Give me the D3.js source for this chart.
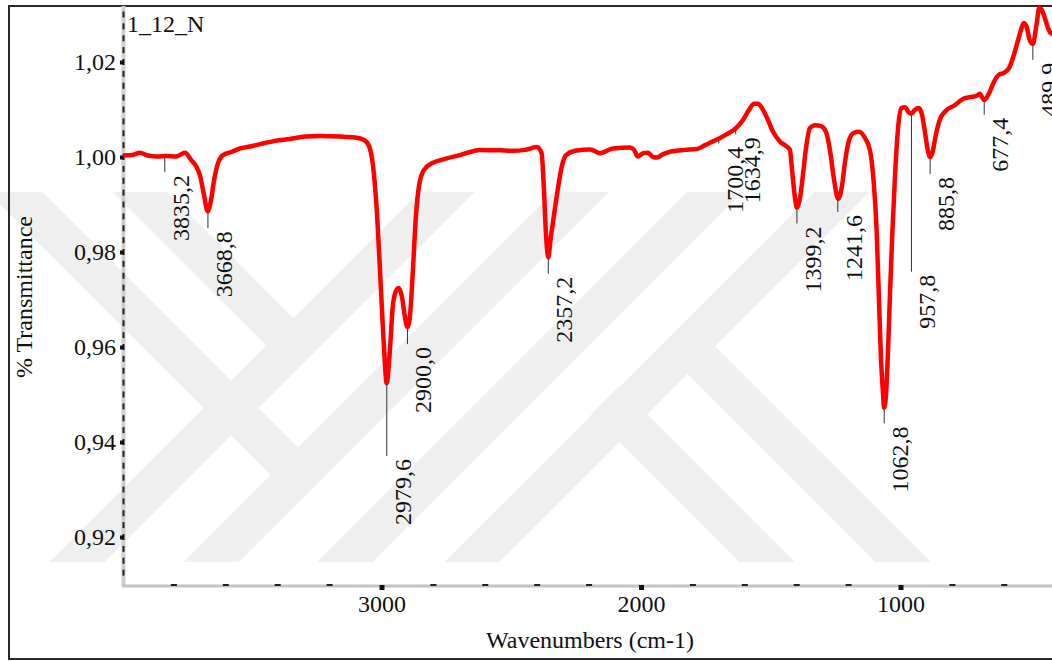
<!DOCTYPE html>
<html>
<head>
<meta charset="utf-8">
<script src="https://cdn.jsdelivr.net/npm/d3@7"></script>
<style>
  body { margin: 0; background: #fff; }
  svg { display: block; font-family: "Liberation Serif", "Times New Roman", serif; }
</style>
</head>
<body>
<svg id="chart" width="1052" height="661"></svg>
<script>
// spectrum (cm-1, transmittance)
const wavenumber = [3996, 3961, 3931, 3900, 3865, 3830, 3792, 3757, 3734, 3715, 3699, 3684, 3670, 3657, 3645, 3630, 3611,
  3576, 3545, 3507, 3468, 3410, 3353, 3295, 3237, 3160, 3102, 3067, 3048, 3033, 3017, 3002, 2990, 2980, 2969, 2956,
  2944, 2933, 2921, 2909, 2900, 2890, 2879, 2867, 2855, 2836, 2805, 2755, 2697, 2620, 2543, 2493, 2447, 2401, 2383,
  2374, 2366, 2357, 2349, 2339, 2324, 2304, 2289, 2254, 2196, 2158, 2108, 2042, 2027, 2012, 1992, 1973, 1954, 1938,
  1915, 1880, 1830, 1784, 1753, 1722, 1699, 1669, 1634, 1607, 1584, 1564, 1549, 1534, 1514, 1491, 1464, 1441, 1426,
  1418, 1408, 1399, 1387, 1376, 1364, 1349, 1329, 1306, 1287, 1272, 1256, 1240, 1225, 1214, 1198, 1179, 1160, 1137,
  1118, 1104, 1092, 1083, 1075, 1067, 1063, 1056, 1048, 1040, 1031, 1021, 1010, 996, 983, 967, 958, 945, 930, 918,
  907, 895, 886, 876, 864, 849, 826, 791, 760, 733, 706, 695, 677, 660, 640, 621, 602, 582, 567, 552, 536, 525, 513,
  502, 490, 476, 465, 455, 444, 432, 421, 409]
const transmittance = [1.0003, 1.0004, 1.0009, 1.0003, 1.0001, 1.0002, 1.0001, 1.0009, 0.9994, 0.9981, 0.9960, 0.9920,
  0.9886, 0.9909, 0.9952, 0.9987, 1.0004, 1.0011, 1.0018, 1.0022, 1.0027, 1.0034, 1.0038, 1.0043, 1.0044, 1.0043,
  1.0041, 1.0036, 1.0023, 0.9983, 0.9878, 0.9720, 0.9594, 0.9524, 0.9583, 0.9688, 0.9718, 0.9724, 0.9705, 0.9661,
  0.9642, 0.9667, 0.9762, 0.9878, 0.9941, 0.9973, 0.9987, 0.9996, 1.0004, 1.0015, 1.0014, 1.0013, 1.0015, 1.0021,
  1.0008, 0.9931, 0.9836, 0.9789, 0.9825, 0.9863, 0.9920, 0.9983, 1.0004, 1.0013, 1.0016, 1.0008, 1.0018, 1.0020,
  1.0015, 1.0001, 1.0008, 1.0009, 1.0000, 0.9999, 1.0006, 1.0012, 1.0015, 1.0017, 1.0025, 1.0033, 1.0039, 1.0048,
  1.0061, 1.0078, 1.0099, 1.0112, 1.0112, 1.0103, 1.0082, 1.0053, 1.0032, 1.0023, 1.0015, 0.9973, 0.9920, 0.9893,
  0.9914, 0.9962, 1.0019, 1.0061, 1.0067, 1.0065, 1.0053, 1.0015, 0.9952, 0.9912, 0.9941, 0.9989, 1.0036, 1.0051,
  1.0053, 1.0040, 1.0015, 0.9952, 0.9846, 0.9699, 0.9573, 0.9499, 0.9472, 0.9499, 0.9594, 0.9720, 0.9846, 0.9962,
  1.0057, 1.0103, 1.0105, 1.0093, 1.0091, 1.0099, 1.0103, 1.0091, 1.0057, 1.0015, 1.0000, 1.0011, 1.0046, 1.0078,
  1.0097, 1.0109, 1.0122, 1.0126, 1.0129, 1.0133, 1.0120, 1.0133, 1.0158, 1.0173, 1.0177, 1.0187, 1.0208, 1.0236,
  1.0267, 1.0282, 1.0272, 1.0246, 1.0238, 1.0278, 1.0314, 1.0309, 1.0293, 1.0272, 1.0261, 1.0259]

// peak picks and how far each leader line drops (px)
const peaks = [3835.2, 3668.8, 2979.6, 2900.0, 2357.2, 1700.4, 1634.9, 1399.2, 1241.6, 1062.8, 957.8, 885.8, 677.4, 489.9]
const leaderLen = [14, 16, 72, 15, 15, 3, 4, 14, 13, 14, 156, 15, 13, 14]

const yTicks = [0.92, 0.94, 0.96, 0.98, 1.00, 1.02]
const xTicks = [3000, 2000, 1000]

const width = 1052, height = 661
const plot = { left: 122, top: 6, right: 1052, bottom: 586 }
const serif = '"Liberation Serif", "Times New Roman", serif'

const svg = d3.select('#chart')

// background watermark: 45 degree bands, cut flat at top and bottom
const bands = [
  [39, 600, 489, 150], [173, 600, 623, 150], [307, 600, 757, 150], [434, 600, 884, 150],
  [605, 400, 805, 600], [674, 333, 941, 600],
  [-27, 150, 312, 489], [98, 150, 307, 359]
]
svg.append('clipPath').attr('id', 'wm-clip')
  .append('rect').attr('x', 0).attr('y', 192).attr('width', width).attr('height', 370)
svg.append('g')
  .attr('clip-path', 'url(#wm-clip)')
  .selectAll('line')
  .data(bands)
  .enter()
  .append('line')
  .attr('x1', d => d[0]).attr('y1', d => d[1])
  .attr('x2', d => d[2]).attr('y2', d => d[3])
  .attr('stroke', '#efefef')
  .attr('stroke-width', 39)

// frame
svg.append('rect')
  .attr('x', 9).attr('y', 6)
  .attr('width', 1060).attr('height', 653)
  .attr('fill', 'none')
  .attr('stroke', '#2a2a2a')
  .attr('stroke-width', 2)

let x = d3.scaleLinear().domain([4000, 400]).range([122, 1056.2])
let y = d3.scaleLinear().domain([0.92, 1.02]).range([537, 62])

const comma = d3.formatLocale({ decimal: ',', thousands: '', grouping: [3], currency: ['', ''] })

// axis lines
svg.append('line')
  .attr('x1', plot.left + 1.5).attr('x2', plot.left + 1.5)
  .attr('y1', plot.top).attr('y2', plot.bottom)
  .attr('stroke', '#cfcfcf').attr('stroke-width', 4)
svg.append('line')
  .attr('x1', plot.left).attr('x2', plot.right)
  .attr('y1', plot.bottom).attr('y2', plot.bottom)
  .attr('stroke', '#c4c4c4').attr('stroke-width', 3)

// minor ticks
let yMinor = d3.range(0.9125, 1.0325, 0.0025).filter(v => y(v) > plot.top + 2 && y(v) < plot.bottom - 4)
svg.append('g').selectAll('rect')
  .data(yMinor)
  .enter()
  .append('rect')
  .attr('x', plot.left + 0.5).attr('y', d => y(d) - 3)
  .attr('width', 2).attr('height', 6)
  .attr('fill', '#222')
let xMinor = d3.range(3800, 400, -200).filter(v => xTicks.indexOf(v) < 0)
svg.append('g').selectAll('rect')
  .data(xMinor)
  .enter()
  .append('rect')
  .attr('x', d => x(d) - 3).attr('y', plot.bottom - 2)
  .attr('width', 6).attr('height', 2)
  .attr('fill', '#222')

// major ticks + labels through d3 axes
let yAxis = svg.append('g')
  .attr('transform', 'translate(' + (plot.left + 2) + ',0)')
  .call(d3.axisLeft(y).tickValues(yTicks).tickSize(4).tickPadding(4).tickFormat(comma.format('.2f')))
yAxis.select('.domain').remove()
yAxis.selectAll('.tick line').attr('stroke', '#111').attr('stroke-width', 4)
yAxis.selectAll('.tick text')
  .attr('font-family', serif)
  .attr('font-size', 24).attr('fill', '#111')

let xAxis = svg.append('g')
  .attr('transform', 'translate(0,' + (plot.bottom - 1) + ')')
  .call(d3.axisBottom(x).tickValues(xTicks).tickSize(5).tickPadding(5).tickFormat(d3.format('d')))
xAxis.select('.domain').remove()
xAxis.selectAll('.tick line').attr('stroke', '#111').attr('stroke-width', 5)
xAxis.selectAll('.tick text')
  .attr('font-family', serif)
  .attr('font-size', 24).attr('fill', '#111')

// axis titles
svg.append('text')
  .attr('x', 590).attr('y', 648)
  .attr('text-anchor', 'middle')
  .attr('font-family', serif)
  .attr('font-size', 24).attr('fill', '#111')
  .text('Wavenumbers (cm-1)')
svg.append('text')
  .attr('transform', 'translate(32,297) rotate(-90)')
  .attr('text-anchor', 'middle')
  .attr('font-family', serif)
  .attr('font-size', 24).attr('fill', '#111')
  .text('% Transmittance')
svg.append('text')
  .attr('x', 127).attr('y', 32)
  .attr('font-family', serif)
  .attr('font-size', 24).attr('fill', '#111')
  .text('1_12_N')

// spectrum
svg.append('clipPath').attr('id', 'plot-clip')
  .append('rect')
  .attr('x', plot.left).attr('y', plot.top - 2)
  .attr('width', plot.right - plot.left).attr('height', plot.bottom - plot.top + 2)

let spectrum = wavenumber.map((w, i) => ({ w: w, t: transmittance[i] }))
let line = d3.line()
  .x(d => x(d.w))
  .y(d => y(d.t))
  .curve(d3.curveMonotoneX)

svg.append('path')
  .datum(spectrum)
  .attr('clip-path', 'url(#plot-clip)')
  .attr('d', line)
  .attr('fill', 'none')
  .attr('stroke', '#ff0000')
  .attr('stroke-width', 4.5)
  .attr('stroke-linejoin', 'round')

// where a peak sits on the trace
function traceAt(w) {
  for (let i = 1; i < spectrum.length; i++) {
    let a = spectrum[i - 1], b = spectrum[i]
    if (w <= a.w && w >= b.w) {
      let f = (a.w - w) / (a.w - b.w)
      return a.t + f * (b.t - a.t)
    }
  }
  return spectrum[spectrum.length - 1].t
}

let picks = svg.append('g').attr('class', 'picks')
peaks.forEach(function (p, i) {
  let px = x(p)
  let py = y(traceAt(p)) + 2
  let end = py + leaderLen[i]
  picks.append('line')
    .attr('x1', px).attr('x2', px)
    .attr('y1', py).attr('y2', end)
    .attr('stroke', '#333')
    .attr('stroke-width', 1)
  picks.append('text')
    .attr('transform', 'translate(' + (px + 24) + ',' + (end + 3) + ') rotate(-90)')
    .attr('text-anchor', 'end')
    .attr('font-family', serif)
    .attr('font-size', 24)
    .attr('fill', '#111')
    .text(comma.format('.1f')(p))
})
</script>
</body>
</html>
